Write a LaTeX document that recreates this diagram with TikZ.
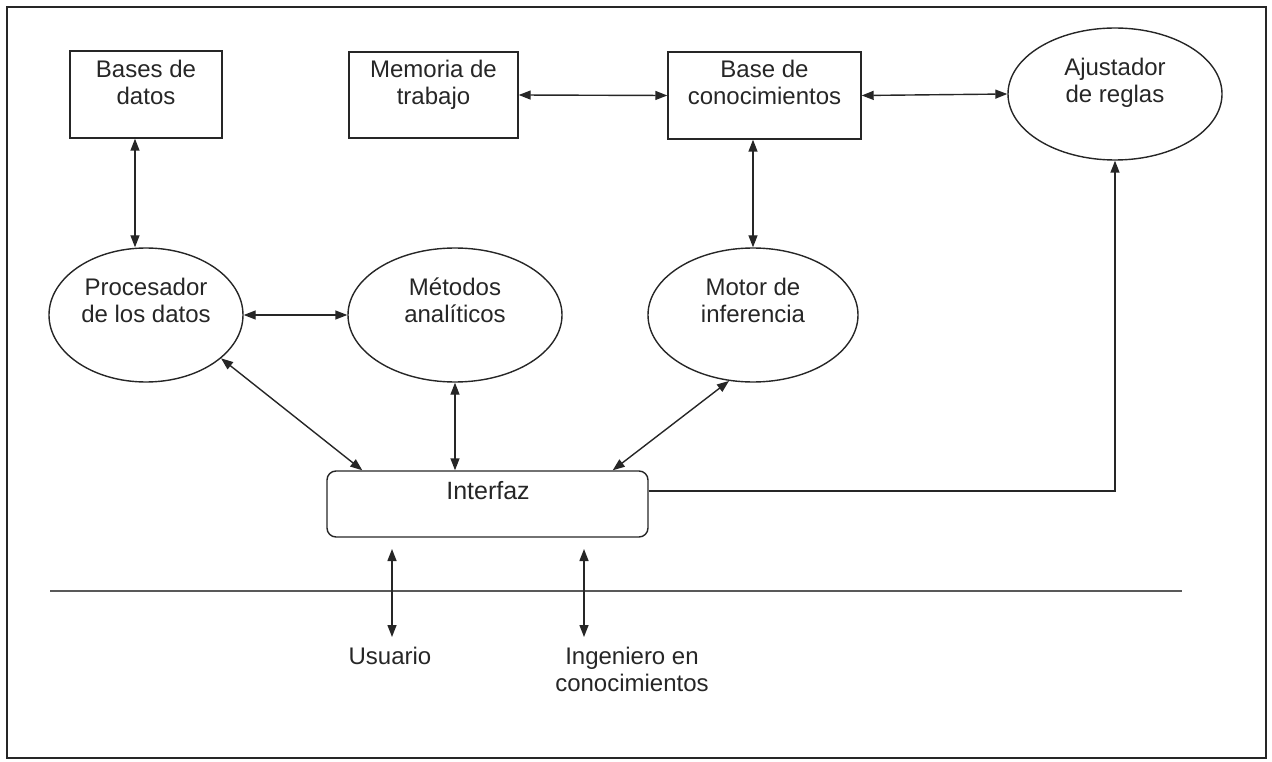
\documentclass[tikz,border=0pt]{standalone}
\usepackage{fontspec}
\setmainfont{Liberation Sans}
\usetikzlibrary{arrows.meta,calc,shapes.geometric}

\begin{document}
\begin{tikzpicture}[x=1pt,y=-1pt,
  ink/.style={draw=black!85, line width=1.4pt},
  blk/.style={ink, rectangle, inner sep=0pt},
  oval/.style={ink, ellipse, inner sep=0pt},
  lbl/.style={font=\fontsize{24}{27.5}\selectfont, text=black!85, align=center, inner sep=0pt, anchor=north},
  link/.style={ink, {Triangle[length=12pt,width=9pt]}-{Triangle[length=12pt,width=9pt]}},
  tolink/.style={ink, -{Triangle[length=12pt,width=9pt]}},
]
\useasboundingbox (0,0) rectangle (1272,762);

% frame
\draw[ink, line width=1.6pt] (7,7) rectangle (1266,758);

% upper row: stores
\node[blk, minimum width=152, minimum height=87] (bd)  at (146,94.5)  {};
\node[blk, minimum width=169, minimum height=86] (mem) at (433.5,95)  {};
\node[blk, minimum width=193, minimum height=87] (kb)  at (764.5,95.5) {};
\node[oval, minimum width=214, minimum height=132] (aj) at (1115,94) {};

\node[lbl] (bd-t)  at (146,59.5)   {Bases de\\datos};
\node[lbl] (mem-t) at (433.5,59.5) {Memoria de\\trabajo};
\node[lbl] (kb-t)  at (764.5,59.5) {Base de\\conocimientos};
\node[lbl] (aj-t)  at (1115,57.5)  {Ajustador\\de reglas};

% middle row: processes
\node[oval, minimum width=194, minimum height=134] (proc)  at (146,315) {};
\node[oval, minimum width=214, minimum height=134] (met)   at (455,315) {};
\node[oval, minimum width=210, minimum height=134] (motor) at (753,315) {};

\node[lbl] (proc-t)  at (146,277.5) {Procesador\\de los datos};
\node[lbl] (met-t)   at (455,277.5) {Métodos\\analíticos};
\node[lbl] (motor-t) at (753,277.5) {Motor de\\inferencia};

% interface
\node[blk, rounded corners=9pt, minimum width=321, minimum height=66] (iface) at (487.5,504) {};
\node[lbl, font=\fontsize{25}{28}\selectfont] (iface-t) at (488,481.5) {Interfaz};

% separator and external actors
\coordinate (sepL) at (50,591);
\coordinate (sepR) at (1182,591);
\draw[ink, draw=black!65, line width=1.1pt] (sepL) -- (sepR);

\coordinate (u-top) at (392,549);
\coordinate (u-bot) at (392,637);
\coordinate (e-top) at (584,549);
\coordinate (e-bot) at (584,637);
\node[lbl] (user) at (390,646.5) {Usuario};
\node[lbl] (eng)  at (632,646.5) {Ingeniero en\\conocimientos};

% connectors
\draw[link] ([xshift=-11pt]bd.south) -- ([xshift=-11pt]proc.north);
\draw[link] (mem.east) -- (kb.west);
\draw[link] (kb.east) -- (aj.west);
\draw[link] (motor.north |- kb.south) -- (motor.north);
\draw[link] (proc.east) -- (met.west);
\draw[link] (proc.-30) -- ($(iface.north west)+(36,0)$);
\draw[link] (met.south) -- (met.south |- iface.north);
\draw[link] (motor.-110) -- ($(iface.north east)+(-36,0)$);
\draw[tolink] ([yshift=13pt]iface.east) -| (aj.south);
\draw[link] (u-top) -- (u-bot);
\draw[link] (e-top) -- (e-bot);
\end{tikzpicture}
\end{document}
